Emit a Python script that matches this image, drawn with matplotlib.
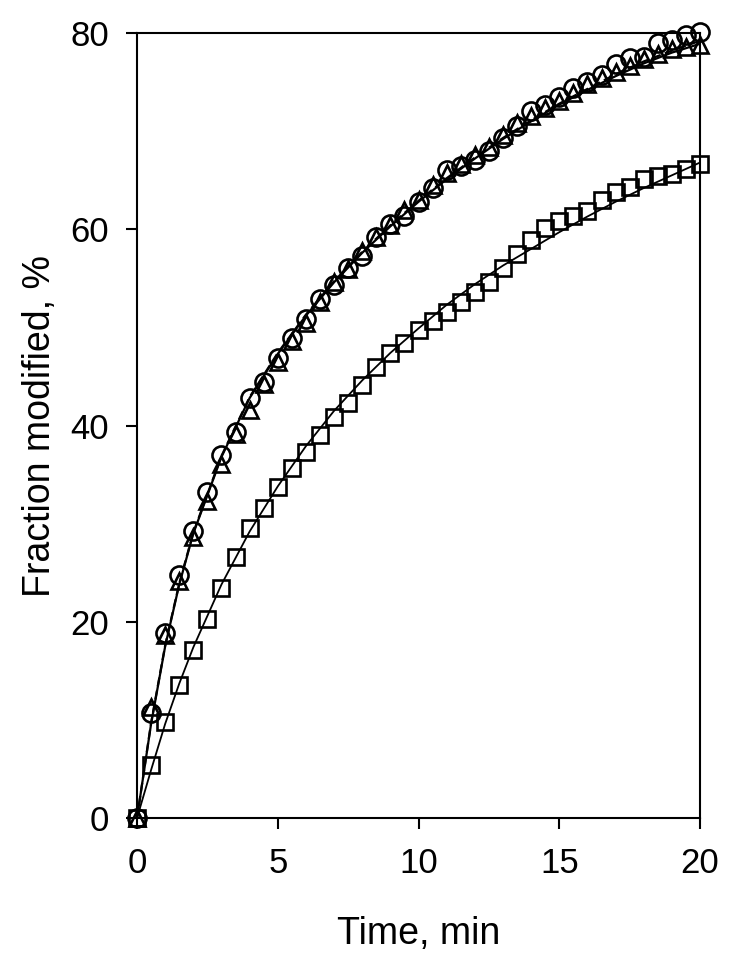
import matplotlib
matplotlib.use("Agg")
import matplotlib.pyplot as plt

plt.rcParams['font.family'] = ['Liberation Sans', 'DejaVu Sans']

# sampling times (min)
t = [i * 0.5 for i in range(41)]

circles = [0, 10.7, 18.9, 24.8, 29.2, 33.2, 37.0, 39.3, 42.8, 44.4,
           46.9, 48.9, 50.9, 52.9, 54.3, 56.1, 57.3, 59.2, 60.5, 61.3,
           62.8, 64.2, 66.0, 66.4, 67.1, 68.0, 69.3, 70.5, 72.0, 72.7,
           73.5, 74.4, 75.0, 75.7, 76.8, 77.5, 77.6, 79.0, 79.3, 79.8, 80.1]

triangles = [0, 11.3, 18.7, 24.2, 28.6, 32.3, 36.1, 39.1, 41.6, 44.2,
             46.5, 48.6, 50.4, 52.6, 54.6, 56.0, 57.8, 59.2, 60.4, 62.0,
             63.0, 64.5, 65.7, 66.6, 67.6, 68.4, 69.6, 70.8, 71.5, 72.4,
             73.1, 73.9, 74.8, 75.4, 76.0, 76.6, 77.3, 77.9, 78.4, 78.6, 78.8]

squares = [0, 5.4, 9.8, 13.6, 17.1, 20.3, 23.4, 26.6, 29.6, 31.6,
           33.7, 35.7, 37.3, 39.0, 40.9, 42.3, 44.1, 46.0, 47.4, 48.4,
           49.7, 50.6, 51.6, 52.6, 53.6, 54.6, 56.1, 57.5, 58.9, 60.1,
           60.8, 61.3, 61.9, 63.0, 63.8, 64.3, 65.1, 65.4, 65.6, 66.1, 66.6]

# fitted curves
t_fit = [0, 0.5, 1, 1.5, 2, 3, 4, 5, 6, 7, 8, 9, 10, 11, 12, 13, 14, 15, 16, 17, 18, 19, 20]
fit_circ = [0, 9.7, 17.6, 23.9, 29.1, 36.9, 42.9, 47.4, 51.3, 54.7, 57.7, 60.4,
            62.9, 65.2, 67.3, 69.3, 71.1, 72.8, 74.3, 75.8, 77.1, 78.2, 79.2]
fit_tri = [0, 9.6, 17.5, 23.8, 29.0, 36.8, 42.8, 47.3, 51.2, 54.6, 57.6, 60.3,
           62.8, 65.1, 67.2, 69.2, 71.0, 72.7, 74.2, 75.6, 76.9, 78.0, 78.9]
fit_sq = [0, 4.9, 9.6, 13.7, 17.4, 23.8, 29.2, 33.8, 37.9, 41.5, 44.6, 47.4,
          49.9, 52.3, 54.4, 56.3, 58.0, 59.7, 61.3, 62.8, 64.2, 65.5, 66.8]

fig = plt.figure(figsize=(7.5, 9.59), dpi=100)
ax = fig.add_axes([0.1827, 0.147, 0.7507, 0.8186])

ax.plot(t_fit, fit_tri, color='black', lw=1.6, zorder=2)
ax.plot(t_fit, fit_circ, color='black', lw=1.6, ls=(0, (4, 2)), zorder=2)
ax.plot(t_fit, fit_sq, color='black', lw=1.3, zorder=2)

mk = dict(ls='none', mfc='none', mec='black', mew=1.9, clip_on=False, zorder=3)
ax.plot(t, circles, marker='o', ms=13, **mk)
ax.plot(t, triangles, marker='^', ms=11.5, **mk)
ax.plot(t, squares, marker='s', ms=11.5, **mk)

ax.set_xlim(0, 20)
ax.set_ylim(0, 80)
ax.set_xticks([0, 5, 10, 15, 20])
ax.set_yticks([0, 20, 40, 60, 80])
ax.tick_params(direction='out', length=8, width=1.5, labelsize=25)
ax.tick_params(axis='x', pad=13)
ax.tick_params(axis='y', pad=12)
for s in ax.spines.values():
    s.set_linewidth(1.5)

ax.set_xlabel('Time, min', fontsize=27, labelpad=26)
ax.set_ylabel('Fraction modified, %', fontsize=27, labelpad=9)

fig.savefig('out.png', dpi=100)
